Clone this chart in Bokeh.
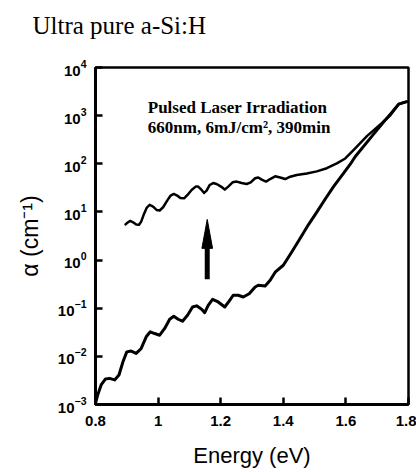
from bokeh.plotting import figure
from bokeh.models import Label, FixedTicker
from bokeh.embed import file_html
from bokeh.resources import INLINE
from bokeh.core.properties import value

# ---------------- data ----------------
title_text = "Ultra pure a-Si:H"
x_label = "Energy (eV)"
y_label = "α (cm⁻¹)"
note_line1 = "Pulsed Laser Irradiation"
note_line2 = "660nm, 6mJ/cm², 390min"

x_ticks = [0.8, 1.0, 1.2, 1.4, 1.6, 1.8]
x_tick_labels = ["0.8", "1", "1.2", "1.4", "1.6", "1.8"]
y_ticks = [1e-3, 1e-2, 1e-1, 1e0, 1e1, 1e2, 1e3, 1e4]

# absorption before irradiation (lower curve)
before_energy = [0.800, 0.807, 0.818, 0.832, 0.845, 0.861, 0.875, 0.888, 0.900, 0.914,
                 0.930, 0.946, 0.962, 0.975, 0.989, 1.005, 1.021, 1.037, 1.050, 1.064,
                 1.078, 1.094, 1.110, 1.123, 1.139, 1.149, 1.160, 1.174, 1.192, 1.213,
                 1.227, 1.240, 1.256, 1.272, 1.291, 1.310, 1.320, 1.342, 1.358, 1.374,
                 1.400, 1.427, 1.454, 1.480, 1.507, 1.534, 1.561, 1.588, 1.614, 1.630,
                 1.684, 1.721, 1.742, 1.769, 1.794]
before_alpha = [0.00106, 0.00158, 0.00255, 0.00339, 0.00349, 0.00324, 0.0041, 0.0078, 0.0124, 0.0129,
                0.0115, 0.0146, 0.0255, 0.0324, 0.0298, 0.0275, 0.038, 0.059, 0.068, 0.059,
                0.0537, 0.0716, 0.106, 0.112, 0.0955, 0.081, 0.115, 0.153, 0.135, 0.106,
                0.14, 0.186, 0.186, 0.171, 0.20, 0.276, 0.30, 0.29, 0.38, 0.56,
                0.78, 1.47, 2.85, 5.4, 9.9, 18.6, 34, 58, 98, 142,
                380, 745, 1070, 1740, 1950]

# absorption after pulsed laser irradiation (upper curve)
after_energy = [0.896, 0.904, 0.911, 0.920, 0.930, 0.939, 0.946, 0.955, 0.964, 0.973,
                0.984, 0.995, 1.005, 1.016, 1.029, 1.040, 1.050, 1.061, 1.071, 1.083,
                1.094, 1.107, 1.120, 1.128, 1.139, 1.147, 1.155, 1.165, 1.176, 1.187,
                1.201, 1.213, 1.224, 1.238, 1.251, 1.267, 1.283, 1.296, 1.310, 1.320,
                1.331, 1.345, 1.358, 1.374, 1.390, 1.406, 1.422, 1.443, 1.475, 1.507,
                1.539, 1.571, 1.598, 1.625, 1.668, 1.710, 1.742, 1.769, 1.794]
after_alpha = [5.5, 6.1, 6.5, 6.1, 5.5, 5.4, 6.3, 9.1, 12.3, 14.0,
               12.9, 11.0, 10.7, 12.5, 17.2, 21.9, 23.6, 21.9, 19.5, 19.2,
               22.5, 28.6, 33.6, 33.6, 28.6, 24.8, 27.7, 36.3, 39.8, 38.0,
               33.6, 29.1, 33.6, 41.2, 42.7, 39.8, 38.0, 41.2, 50, 52,
               46.8, 42.7, 48.2, 55, 52, 48.2, 54, 58.6, 63, 69.5,
               81, 102, 129, 195, 380, 660, 1020, 1740, 1950]

# arrow annotation (energy, alpha values)
arrow_energy = 1.157
arrow_half_width = 0.017
arrow_tail = 0.40
arrow_head_base = 1.75
arrow_tip = 7.0

# ---------------- figure ----------------
p = figure(width=416, height=472, y_axis_type="log",
           x_range=(0.8, 1.8), y_range=(1e-3, 1e4),
           output_backend="svg", toolbar_location=None,
           min_border_left=95, min_border_right=8,
           min_border_top=67, min_border_bottom=68)

p.background_fill_color = "white"
p.border_fill_color = "white"
p.xgrid.visible = False
p.ygrid.visible = False
p.outline_line_color = "black"
p.outline_line_width = 2.5
p.outline_line_alpha = 1.0

# title (top-left, outside the frame); the blank second line lifts it up
p.title.text = title_text + "\n "
p.title.align = "left"
p.title.offset = -63
p.title.standoff = 4
p.title.text_font = "Liberation Serif"
p.title.text_font_style = "normal"
p.title.text_font_size = "25px"
p.title.text_color = "black"

# axes
for ax in (p.xaxis[0], p.yaxis[0]):
    ax.axis_line_width = 3
    ax.axis_line_color = "black"
    ax.major_tick_in = 7
    ax.major_tick_out = 0
    ax.minor_tick_in = 0
    ax.minor_tick_out = 0
    ax.major_tick_line_width = 2.5
    ax.major_tick_line_color = "black"
    ax.major_label_text_font = "Liberation Sans"
    ax.major_label_text_font_style = "bold"
    ax.major_label_text_font_size = "15px"
    ax.major_label_text_color = "black"
    ax.axis_label_text_font = "Liberation Sans"
    ax.axis_label_text_font_style = "normal"
    ax.axis_label_text_color = "black"

p.xaxis.ticker = FixedTicker(ticks=x_ticks, minor_ticks=[])
p.xaxis.major_label_overrides = {t: lab for t, lab in zip(x_ticks, x_tick_labels)}
p.xaxis.major_label_standoff = 11
p.xaxis.axis_label = x_label
p.xaxis.axis_label_text_font_size = "22px"
p.xaxis.axis_label_standoff = 14

p.yaxis.ticker = FixedTicker(ticks=y_ticks, minor_ticks=[])
p.yaxis.major_label_standoff = 9
p.yaxis.axis_label = y_label
p.yaxis.axis_label_text_font_size = "23px"
p.yaxis.axis_label_standoff = 12

# curves
p.line(before_energy, before_alpha, line_color="black", line_width=3,
       line_join="round", line_cap="round")
p.line(after_energy, after_alpha, line_color="black", line_width=2.5,
       line_join="round", line_cap="round")

# arrow: shaft + narrow head
p.segment(x0=[arrow_energy], y0=[arrow_tail], x1=[arrow_energy], y1=[arrow_head_base],
          line_color="black", line_width=5)
p.patch([arrow_energy - arrow_half_width, arrow_energy, arrow_energy + arrow_half_width],
        [arrow_head_base, arrow_tip, arrow_head_base],
        fill_color="black", line_color="black", line_width=1)

# texts inside the frame
p.add_layout(Label(x=0.967, y=10 ** 3.17, text=note_line1,
                   text_font="Liberation Serif", text_font_style="bold",
                   text_font_size="17px", text_color="black",
                   text_baseline="alphabetic", text_align="left"))
p.add_layout(Label(x=0.967, y=10 ** 2.75, text=note_line2,
                   text_font="Liberation Serif", text_font_style="bold",
                   text_font_size="17px", text_color="black",
                   text_baseline="alphabetic", text_align="left"))

open("out.html", "w").write(file_html(p, INLINE))
